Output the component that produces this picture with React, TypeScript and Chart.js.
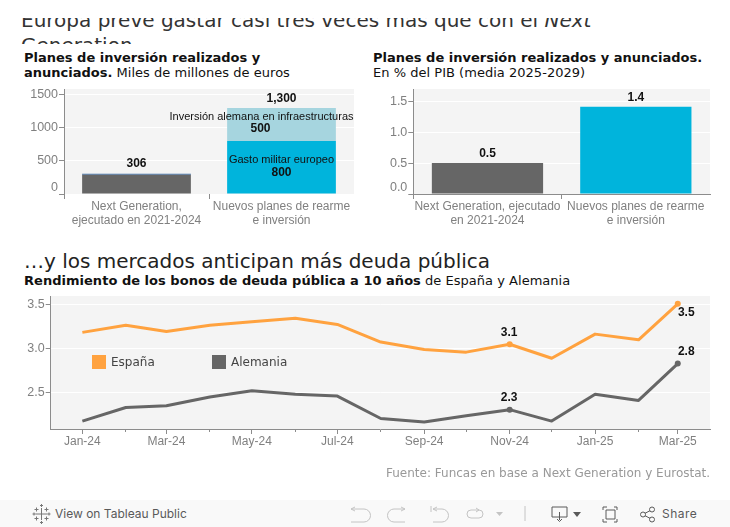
import React, { useEffect, useRef } from "react";
import { Chart, registerables } from "chart.js";

Chart.register(...registerables);

const GREY = "#666666";
const ORANGE = "#ffa23f";
const CYAN = "#00b4dc";
const LIGHT = "#a6d5df";
const BLUE = "#3f6fa8";
const TICK = "#808080";
const AXIS = "#8c8c8c";
const PLOT_BG = "#f4f4f4";
const ARIAL = "'Liberation Sans', Arial, sans-serif";
const DEJAVU = "'DejaVu Sans', Verdana, sans-serif";

const planCategories = [
  ["Next Generation,", "ejecutado en 2021-2024"],
  ["Nuevos planes de rearme", "e inversión"],
];
const planCategoriesPib = [
  ["Next Generation, ejecutado", "en 2021-2024"],
  ["Nuevos planes de rearme", "e inversión"],
];
const ngExecuted = [292, 0];
const ngTop = [14, 0];
const militarySpend = [0, 800];
const germanInfra = [0, 500];
const totals = [306, 1300];
const pibValues = [0.5, 1.41];
const pibLabels = ["0.5", "1.4"];

const monthDays = [0, 31, 60, 91, 121, 152, 182, 213, 244, 274, 305, 335, 366, 397, 425];
const monthLabels = ["Jan-24", "", "Mar-24", "", "May-24", "", "Jul-24", "", "Sep-24", "", "Nov-24", "", "Jan-25", "", "Mar-25"];
const spain = [3.18, 3.26, 3.19, 3.26, 3.3, 3.34, 3.27, 3.07, 2.985, 2.955, 3.045, 2.885, 3.16, 3.095, 3.505];
const germany = [2.17, 2.325, 2.345, 2.445, 2.515, 2.475, 2.455, 2.2, 2.16, 2.23, 2.3, 2.17, 2.475, 2.405, 2.825];
const markedMonths = [10, 14];
const spainMarks = ["3.1", "3.5"];
const germanyMarks = ["2.3", "2.8"];

const plotBackground = {
  id: "plotBackground",
  beforeDraw(chart: any) {
    const { ctx, chartArea: a } = chart;
    ctx.save();
    ctx.fillStyle = PLOT_BG;
    ctx.fillRect(a.left, a.top, a.right - a.left, a.bottom - a.top);
    ctx.restore();
  },
};

function drawNote(ctx: any, text: string, x: number, y: number, bold: boolean) {
  ctx.save();
  ctx.font = `${bold ? "bold " : ""}12px ${ARIAL}`;
  ctx.fillStyle = "#111111";
  ctx.textAlign = "center";
  ctx.textBaseline = "middle";
  ctx.fillText(text, x, y);
  ctx.restore();
}

function sizeScales(yWidth: number, xHeight: number) {
  return {
    y: { afterFit: (s: any) => { s.width = yWidth; s.paddingTop = 0; s.paddingBottom = 0; } },
    x: { afterFit: (s: any) => { s.height = xHeight; s.paddingLeft = 0; s.paddingRight = 0; } },
  };
}

const tickFont = { family: ARIAL, size: 12, lineHeight: 1.19 };

function barOptions(yMax: number, yTicks: number[], yFormat: (v: number) => any, yW: number, xH: number, pad: any, xBorder: boolean) {
  const fit = sizeScales(yW, xH);
  return {
    animation: false as const,
    responsive: false,
    maintainAspectRatio: false,
    layout: { padding: pad },
    plugins: { legend: { display: false }, tooltip: { enabled: false } },
    scales: {
      x: {
        stacked: true,
        afterFit: fit.x.afterFit,
        border: { display: xBorder, color: AXIS, width: 1 },
        grid: {
          offset: true,
          drawOnChartArea: false,
          drawTicks: true,
          tickLength: 5,
          tickColor: (c: any) => (c.tick ? AXIS : "transparent"),
        },
        ticks: { color: TICK, font: tickFont, padding: 0.5, maxRotation: 0, autoSkip: false },
      },
      y: {
        stacked: true,
        min: 0,
        max: yMax,
        afterFit: fit.y.afterFit,
        afterBuildTicks: (s: any) => { s.ticks = yTicks.map((value) => ({ value })); },
        border: { color: AXIS, width: 1 },
        grid: {
          color: (c: any) => (c.tick && c.tick.value === 0 ? "transparent" : "#ffffff"),
          tickColor: AXIS,
          tickLength: 5,
          lineWidth: 1,
        },
        ticks: {
          color: TICK,
          font: { family: ARIAL, size: 12.5, lineHeight: 1.1 },
          padding: 1,
          callback: (v: any) => yFormat(Number(v)),
        },
      },
    },
  };
}

export default function App() {
  const c1 = useRef<HTMLCanvasElement>(null);
  const c2 = useRef<HTMLCanvasElement>(null);
  const c3 = useRef<HTMLCanvasElement>(null);

  useEffect(() => {
    const barStyle = { barPercentage: 0.75, categoryPercentage: 1, borderWidth: 0 };

    const notes1 = {
      id: "notes1",
      afterDatasetsDraw(chart: any) {
        const { x, y } = chart.scales;
        const cx = (i: number) => x.getPixelForValue(i);
        drawNote(chart.ctx, String(totals[0]), cx(0), y.getPixelForValue(totals[0]) - 10, true);
        drawNote(chart.ctx, "1,300", cx(1), y.getPixelForValue(totals[1]) - 9, true);
        drawNote(chart.ctx, String(germanInfra[1]), cx(1) - 21, y.getPixelForValue(980), true);
        drawNote(chart.ctx, String(militarySpend[1]), cx(1), y.getPixelForValue(315), true);
        const c = chart.ctx;
        c.save();
        c.font = `11px ${ARIAL}`;
        c.fillStyle = "#111111";
        c.textAlign = "center";
        c.textBaseline = "middle";
        c.fillText("Inversión alemana en infraestructuras", cx(1) - 20, y.getPixelForValue(1170));
        c.fillText("Gasto militar europeo", cx(1), y.getPixelForValue(510));
        c.restore();
      },
    };

    const chart1 = new Chart(c1.current!, {
      type: "bar",
      data: {
        labels: planCategories as any,
        datasets: [
          { data: ngExecuted, backgroundColor: GREY, ...barStyle },
          { data: ngTop, backgroundColor: BLUE, ...barStyle },
          { data: militarySpend, backgroundColor: CYAN, ...barStyle },
          { data: germanInfra, backgroundColor: LIGHT, ...barStyle },
        ],
      },
      options: barOptions(
        1585,
        [0, 500, 1000, 1500],
        (v) => (v === 0 ? ["0", ""] : String(v)),
        64, 41, { top: 9, right: 11 }, false
      ) as any,
      plugins: [plotBackground, notes1],
    });

    const notes2 = {
      id: "notes2",
      afterDatasetsDraw(chart: any) {
        const { x, y } = chart.scales;
        pibValues.forEach((v, i) => {
          drawNote(chart.ctx, pibLabels[i], x.getPixelForValue(i), y.getPixelForValue(v) - 9.5, true);
        });
      },
    };

    const chart2 = new Chart(c2.current!, {
      type: "bar",
      data: {
        labels: planCategoriesPib as any,
        datasets: [{ data: pibValues, backgroundColor: [GREY, CYAN], ...barStyle }],
      },
      options: barOptions(
        1.698,
        [0, 0.5, 1, 1.5],
        (v) => (v === 0 ? ["0.0", ""] : v.toFixed(1)),
        48.3, 41, { top: 9, right: 20 }, true
      ) as any,
      plugins: [plotBackground, notes2],
    });

    const notes3 = {
      id: "notes3",
      afterDatasetsDraw(chart: any) {
        const draw = (ds: number, i: number, text: string, dx: number, dy: number) => {
          const p = chart.getDatasetMeta(ds).data[i];
          drawNote(chart.ctx, text, p.x + dx, p.y + dy, true);
        };
        draw(0, markedMonths[0], spainMarks[0], -0.5, -11.5);
        draw(0, markedMonths[1], spainMarks[1], 8.5, 9);
        draw(1, markedMonths[0], germanyMarks[0], -0.5, -11.5);
        draw(1, markedMonths[1], germanyMarks[1], 8.5, -11.5);
      },
    };

    const pointSize = (c: any) => (markedMonths.includes(c.dataIndex) ? 3 : 0);
    const lineStyle = { borderWidth: 3, tension: 0, pointRadius: pointSize, pointBorderWidth: 0, borderJoinStyle: "round" as const };

    const fit3 = sizeScales(50.7, 38);
    const chart3 = new Chart(c3.current!, {
      type: "line",
      data: {
        datasets: [
          {
            label: "España",
            data: monthDays.map((x, i) => ({ x, y: spain[i] })),
            borderColor: ORANGE,
            backgroundColor: ORANGE,
            ...lineStyle,
          },
          {
            label: "Alemania",
            data: monthDays.map((x, i) => ({ x, y: germany[i] })),
            borderColor: GREY,
            backgroundColor: GREY,
            ...lineStyle,
          },
        ],
      },
      options: {
        animation: false,
        responsive: false,
        maintainAspectRatio: false,
        layout: { padding: { top: 6, right: 20 } },
        plugins: { legend: { display: false }, tooltip: { enabled: false } },
        scales: {
          x: {
            type: "linear",
            min: -22.6,
            max: 448,
            afterFit: fit3.x.afterFit,
            afterBuildTicks: (s: any) => { s.ticks = monthDays.map((value) => ({ value })); },
            border: { color: AXIS, width: 1 },
            grid: {
              drawOnChartArea: false,
              tickLength: 5,
              tickColor: AXIS,
              tickBorderDash: (c: any) => (c.index % 2 === 0 ? [5, 0] : [2, 10]),
            },
            ticks: {
              color: TICK,
              font: tickFont,
              padding: 1,
              maxRotation: 0,
              autoSkip: false,
              callback: (v: any) => monthLabels[monthDays.indexOf(Number(v))] ?? "",
            },
          },
          y: {
            min: 2.08,
            max: 3.594,
            afterFit: fit3.y.afterFit,
            afterBuildTicks: (s: any) => { s.ticks = [2.5, 3, 3.5].map((value) => ({ value })); },
            border: { color: AXIS, width: 1 },
            grid: { color: "#ffffff", tickColor: AXIS, tickLength: 5 },
            ticks: {
              color: TICK,
              font: { family: ARIAL, size: 12.5 },
              padding: 1,
              callback: (v: any) => Number(v).toFixed(1),
            },
          },
        },
      } as any,
      plugins: [plotBackground, notes3],
    });

    return () => {
      chart1.destroy();
      chart2.destroy();
      chart3.destroy();
    };
  }, []);

  const abs = (left: number, top: number, extra: React.CSSProperties = {}): React.CSSProperties => ({
    position: "absolute",
    left,
    top,
    whiteSpace: "nowrap",
    ...extra,
  });
  const head: React.CSSProperties = { fontFamily: DEJAVU, fontSize: 13, lineHeight: "15px", color: "#111" };
  const spaced: React.CSSProperties = { letterSpacing: 0.025 };
  const icon = { fill: "none", stroke: "#c4c4c4", strokeWidth: 1 };
  const dark = { fill: "none", stroke: "#5a5a5a", strokeWidth: 1 };

  return (
    <div style={{ position: "absolute", left: 0, top: 0, width: 730, height: 527, overflow: "hidden", background: "#fff" }}>
      <div style={abs(0, 18, { width: 730, height: 26, overflow: "hidden" })}>
        <div style={{ position: "absolute", left: 21, top: -10, width: 620, whiteSpace: "normal", fontFamily: DEJAVU, fontSize: 20, lineHeight: "24.5px", color: "#333" }}>
          Europa prevé gastar casi tres veces más que con el <i>Next</i> Generation
        </div>
      </div>

      <div style={abs(24, 50, head)}>
        <b>Planes de inversión realizados y</b>
        <br />
        <b>anunciados.</b> <span style={spaced}>Miles de millones de euros</span>
      </div>
      <div style={abs(373, 50, head)}>
        <b>Planes de inversión realizados y anunciados.</b>
        <br />
        <span style={spaced}>En % del PIB (media 2025-2029)</span>
      </div>

      <canvas ref={c1} width={365} height={155} style={abs(0, 80, { display: "block" })} />
      <canvas ref={c2} width={365} height={155} style={abs(365, 80, { display: "block" })} />

      <div style={abs(24, 249, { fontFamily: DEJAVU, fontSize: 20, lineHeight: "24px", color: "#222" })}>
        …y los mercados anticipan más deuda pública
      </div>
      <div style={abs(24, 273, { ...head, ...spaced })}>
        <b>Rendimiento de los bonos de deuda pública a 10 años</b> de España y Alemania
      </div>

      <canvas ref={c3} width={730} height={177} style={abs(0, 290, { display: "block" })} />

      <div style={abs(92, 355, { width: 14, height: 14, background: ORANGE })} />
      <div style={abs(111, 354, { fontFamily: DEJAVU, fontSize: 12, lineHeight: "16px", color: "#444" })}>España</div>
      <div style={abs(212, 355, { width: 14, height: 14, background: GREY })} />
      <div style={abs(231, 354, { fontFamily: DEJAVU, fontSize: 12, lineHeight: "16px", color: "#444" })}>Alemania</div>

      <div style={abs(386, 465.5, { width: 324, textAlign: "right", fontFamily: DEJAVU, fontSize: 12, lineHeight: "15px", color: "#999" })}>
        Fuente: Funcas en base a Next Generation y Eurostat.
      </div>

      <div style={abs(0, 500, { width: 730, height: 27, background: "#f9f9f9" })}>
        <svg width={730} height={27} style={{ position: "absolute", left: 0, top: 0 }}>
          <g fill="none" stroke="#777" strokeWidth={1}>
            <path d="M41.500 8v12M35.500 14h12" />
            <path d="M41.500 4v3M40 5.500h3M41.500 21v3M40 22.500h3M34 12.500v3M32.500 14h3M49 12.500v3M47.500 14h3" />
            <path d="M36.500 7.500v4M34.500 9.500h4M46.500 7.500v4M44.500 9.500h4M36.500 16.500v4M34.500 18.500h4M46.500 16.500v4M44.500 18.500h4" />
          </g>
          <g {...icon}>
            <path d="M351 9h13a6 6 0 0 1 0 13h-13M351 9l4-2M351 9l4 2" />
            <path d="M405 9h-11a6 6 0 0 0 0 13h11M405 9l-4-2M405 9l-4 2" />
            <path d="M431 6v6M433 9h9a6 6 0 0 1 0 13h-9M433 9l4-2M433 9l4 2" />
            <path d="M479 10h-8a4 4 0 0 0 0 8h8a4 4 0 0 0 0-8M479 10l-3-2M479 10l-3 2" />
            <path d="M525 6v15" />
          </g>
          <path d="M496 12h7l-3.500 4z" fill="#c4c4c4" />
          <g {...dark}>
            <path d="M552 7h15v10h-15zM559.500 12v8" />
            <path d="M557 19l2.500 2.500 2.500-2.500" />
            <path d="M604 7h-1v3M604 7h3M617 7h-3M617 7v3M604 22h-1v-3M604 22h3M617 22h-3M617 22v-3M606 10h9v9h-9z" />
            <circle cx="643" cy="14.500" r="2.500" />
            <circle cx="652" cy="9.500" r="2.500" />
            <circle cx="652" cy="19.500" r="2.500" />
            <path d="M645 13.300l5-2.600M645 15.700l5 2.600" />
          </g>
          <path d="M573 12h8l-4 5z" fill="#5a5a5a" />
        </svg>
        <div style={abs(55, 6, { fontFamily: "Inter, sans-serif", fontSize: 12, lineHeight: "16px", color: "#5a5a5a" })}>View on Tableau Public</div>
        <div style={abs(662, 6, { fontFamily: "Inter, sans-serif", fontSize: 12, lineHeight: "16px", color: "#5a5a5a", letterSpacing: 0.5 })}>Share</div>
      </div>
    </div>
  );
}
